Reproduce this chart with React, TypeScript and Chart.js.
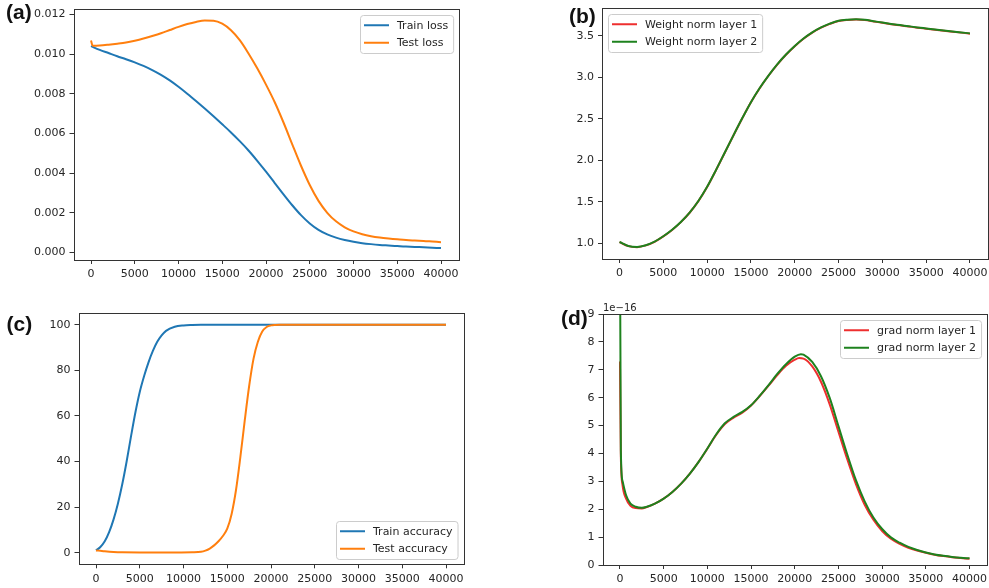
import React, { useEffect, useRef } from "react";
import { Chart, registerables } from "chart.js";

Chart.register(...registerables);

// ---------- data ----------
const xTickValues = [0, 5000, 10000, 15000, 20000, 25000, 30000, 35000, 40000];

// (a) loss
const lossSteps = [0, 200, 1000, 2000, 3000, 4000, 5000, 6000, 7000, 8000, 9000, 10000, 11000, 12000, 13000, 14000, 15000, 16000, 17000, 18000, 19000, 20000, 21000, 22000, 23000, 24000, 25000, 26000, 27000, 28000, 29000, 30000, 31000, 32000, 33000, 34000, 35000, 36000, 37000, 38000, 39000, 40000];
const trainLoss = [0.0104, 0.01036, 0.01021, 0.01005, 0.00989, 0.00974, 0.00958, 0.00940, 0.00919, 0.00895, 0.00867, 0.00835, 0.00800, 0.00763, 0.00725, 0.00686, 0.00646, 0.00605, 0.00561, 0.00514, 0.00462, 0.00407, 0.00350, 0.00293, 0.00238, 0.00188, 0.00146, 0.00114, 0.00091, 0.00075, 0.00063, 0.00054, 0.00047, 0.00042, 0.00038, 0.00035, 0.00032, 0.0003, 0.00028, 0.00026, 0.00024, 0.00022];
const testLoss = [0.01068, 0.01042, 0.01043, 0.01047, 0.01052, 0.01058, 0.01067, 0.01078, 0.01091, 0.01105, 0.01121, 0.01137, 0.01151, 0.01162, 0.01169, 0.01168, 0.01153, 0.01120, 0.01070, 0.01003, 0.00928, 0.00846, 0.00757, 0.00655, 0.00545, 0.00437, 0.00340, 0.00260, 0.00200, 0.00157, 0.00127, 0.00106, 0.00092, 0.00082, 0.00075, 0.0007, 0.00066, 0.00063, 0.0006, 0.00058, 0.00055, 0.00052];
const lossTicks = [0, 0.002, 0.004, 0.006, 0.008, 0.01, 0.012];

// (b) weight norms
const normSteps = [0, 1000, 2000, 3000, 4000, 5000, 6000, 7000, 8000, 9000, 10000, 11000, 12000, 13000, 14000, 15000, 16000, 17000, 18000, 19000, 20000, 21000, 22000, 23000, 24000, 25000, 26000, 27000, 28000, 29000, 30000, 31000, 32000, 33000, 34000, 35000, 36000, 37000, 38000, 39000, 40000];
const weightNorm1 = [1.014, 0.966, 0.954, 0.975, 1.018, 1.083, 1.161, 1.255, 1.368, 1.508, 1.678, 1.878, 2.088, 2.298, 2.503, 2.698, 2.868, 3.018, 3.153, 3.271, 3.374, 3.464, 3.538, 3.597, 3.642, 3.677, 3.690, 3.694, 3.688, 3.672, 3.655, 3.639, 3.625, 3.611, 3.597, 3.585, 3.573, 3.561, 3.549, 3.537, 3.524];
const weightNorm2 = [1.016, 0.968, 0.956, 0.977, 1.02, 1.085, 1.163, 1.257, 1.37, 1.51, 1.68, 1.88, 2.09, 2.3, 2.505, 2.7, 2.87, 3.02, 3.155, 3.273, 3.376, 3.466, 3.54, 3.6, 3.645, 3.68, 3.693, 3.697, 3.691, 3.675, 3.658, 3.642, 3.628, 3.614, 3.6, 3.588, 3.576, 3.564, 3.552, 3.54, 3.528];
const normTicks = [1.0, 1.5, 2.0, 2.5, 3.0, 3.5];

// (c) accuracy
const trainAccSteps = [0, 500, 1000, 1500, 2000, 2500, 3000, 3500, 4000, 4500, 5000, 5500, 6000, 6500, 7000, 7500, 8000, 9000, 10000, 11000, 12000, 15000, 20000, 25000, 30000, 35000, 40000];
const trainAcc = [1.0, 2.5, 5.0, 9.0, 14.5, 21.5, 30, 40, 51, 61.5, 70.5, 77.5, 83.5, 88.5, 92.5, 95.3, 97.3, 99.1, 99.7, 99.9, 100, 100, 100, 100, 100, 100, 100];
const testAccSteps = [0, 500, 1000, 2000, 3000, 5000, 8000, 11000, 12000, 12500, 13000, 13500, 14000, 14500, 15000, 15500, 16000, 16500, 17000, 17500, 18000, 18500, 19000, 19500, 20000, 20500, 21000, 25000, 30000, 35000, 40000];
const testAcc = [1.0, 0.8, 0.6, 0.3, 0.15, 0.1, 0.1, 0.2, 0.4, 0.9, 1.8, 3.2, 5.0, 7.3, 10.5, 17, 27.5, 42, 58, 73, 85, 92.5, 97, 99, 99.7, 99.9, 100, 100, 100, 100, 100];
const accTicks = [0, 20, 40, 60, 80, 100];

// (d) gradient norms (units of 1e-16)
const gradSteps1 = [0, 100, 300, 700, 1200, 1800, 2500, 3000, 4000, 5000, 6000, 7000, 8000, 9000, 10000, 11000, 12000, 13000, 14000, 15000, 16000, 17000, 18000, 19000, 20000, 20500, 21000, 22000, 23000, 24000, 25000, 26000, 27000, 28000, 29000, 30000, 31000, 32000, 33000, 34000, 35000, 36000, 37000, 38000, 39000, 40000];
const gradNorm1 = [7.3, 3.9, 2.85, 2.38, 2.12, 2.04, 2.03, 2.07, 2.2, 2.38, 2.62, 2.92, 3.28, 3.7, 4.17, 4.66, 5.05, 5.28, 5.46, 5.72, 6.06, 6.43, 6.81, 7.14, 7.36, 7.42, 7.4, 7.12, 6.57, 5.76, 4.78, 3.8, 2.9, 2.16, 1.62, 1.22, 0.94, 0.76, 0.62, 0.52, 0.44, 0.37, 0.32, 0.28, 0.25, 0.22];
const gradSteps2 = [0, 100, 300, 700, 1200, 1800, 2500, 3000, 4000, 5000, 6000, 7000, 8000, 9000, 10000, 11000, 12000, 13000, 14000, 15000, 16000, 17000, 18000, 19000, 20000, 20700, 21000, 22000, 23000, 24000, 25000, 26000, 27000, 28000, 29000, 30000, 31000, 32000, 33000, 34000, 35000, 36000, 37000, 38000, 39000, 40000];
const gradNorm2 = [12.0, 4.1, 3.0, 2.5, 2.2, 2.09, 2.05, 2.08, 2.2, 2.38, 2.62, 2.92, 3.28, 3.7, 4.18, 4.68, 5.08, 5.31, 5.49, 5.73, 6.07, 6.45, 6.85, 7.2, 7.47, 7.56, 7.54, 7.28, 6.77, 5.99, 4.98, 3.97, 3.04, 2.28, 1.7, 1.29, 0.99, 0.8, 0.65, 0.54, 0.45, 0.38, 0.33, 0.29, 0.26, 0.24];
const gradTicks = [0, 1, 2, 3, 4, 5, 6, 7, 8, 9];

// ---------- styling ----------
const BLUE = "#1f77b4";
const ORANGE = "#ff7f0e";
const RED = "#ee2f2f";
const GREEN = "#1e821e";
const TEXT = "#262626";
const AXIS = "#333333";
const FONT = "'DejaVu Sans', sans-serif";

const pts = (xs: number[], ys: number[]) => xs.map((x, i) => ({ x, y: ys[i] }));

const line = (label: string, xs: number[], ys: number[], color: string, order: number) => ({
  label,
  data: pts(xs, ys),
  borderColor: color,
  backgroundColor: color,
  borderWidth: 2,
  pointRadius: 0,
  fill: false,
  cubicInterpolationMode: "monotone" as const,
  order,
});

const framePlugin = {
  id: "frame",
  afterDraw(chart: any) {
    const { ctx, chartArea: a } = chart;
    ctx.save();
    ctx.strokeStyle = AXIS;
    ctx.lineWidth = 1;
    const l = Math.round(a.left) + 0.5;
    const t = Math.round(a.top) + 0.5;
    const r = Math.round(a.right) + 0.5;
    const b = Math.round(a.bottom) + 0.5;
    ctx.strokeRect(l, t, r - l, b - t);
    ctx.restore();
  },
};

const boxLegendPlugin = {
  id: "boxLegend",
  afterDraw(chart: any, _args: any, opts: any) {
    const { ctx, chartArea: a } = chart;
    const fs = 11;
    ctx.save();
    ctx.font = `${fs}px ${FONT}`;
    const items = chart.data.datasets.map((d: any) => ({ label: d.label, color: d.borderColor }));
    const handle = 25, gap = 8, padL = 4, padR = 5, rowH = 17.5, padV = 1.5, m = 5.5;
    const textW = Math.max(...items.map((i: any) => ctx.measureText(i.label).width));
    const w = padL + handle + gap + textW + padR;
    const h = items.length * rowH + 2 * padV;
    const pos: string = opts.pos || "upper right";
    const x = Math.round(pos.includes("right") ? a.right - m - w : a.left + m);
    const y = Math.round(pos.includes("upper") ? a.top + m : a.bottom - m - h);
    ctx.beginPath();
    if (ctx.roundRect) ctx.roundRect(x + 0.5, y + 0.5, w, h, 3);
    else ctx.rect(x + 0.5, y + 0.5, w, h);
    ctx.fillStyle = "rgba(255,255,255,0.8)";
    ctx.fill();
    ctx.strokeStyle = "#cccccc";
    ctx.lineWidth = 1;
    ctx.stroke();
    items.forEach((it: any, i: number) => {
      const cy = y + padV + rowH * (i + 0.5);
      ctx.beginPath();
      ctx.moveTo(x + padL, cy);
      ctx.lineTo(x + padL + handle, cy);
      ctx.strokeStyle = it.color;
      ctx.lineWidth = 2;
      ctx.stroke();
      ctx.fillStyle = TEXT;
      ctx.textBaseline = "middle";
      ctx.textAlign = "left";
      ctx.fillText(it.label, x + padL + handle + gap, cy + 0.5);
    });
    ctx.restore();
  },
};

type Rect = { left: number; top: number; width: number; height: number };
type Area = { l: number; t: number; r: number; b: number };

interface PanelProps {
  box: Rect;
  area: Area;
  datasets: any[];
  yMin: number;
  yMax: number;
  yTicks: number[];
  yFmt: (v: number) => string;
  legendPos: string;
}

function Panel(p: PanelProps) {
  const ref = useRef<HTMLCanvasElement>(null);
  useEffect(() => {
    if (!ref.current) return;
    const yW = 60;
    const xH = 22;
    const c = p.box;
    const font = { family: FONT, size: 11 };
    const chart = new Chart(ref.current, {
      type: "line",
      data: { datasets: p.datasets },
      options: {
        responsive: false,
        animation: false,
        events: [],
        layout: {
          padding: {
            left: p.area.l - c.left - yW,
            top: p.area.t - c.top,
            right: c.left + c.width - p.area.r,
            bottom: c.top + c.height - p.area.b - xH,
          },
        },
        scales: {
          x: {
            type: "linear",
            min: -2000,
            max: 42000,
            afterBuildTicks: (s: any) => {
              s.ticks = xTickValues.map((v) => ({ value: v }));
            },
            afterFit: (s: any) => {
              s.height = xH;
              s.paddingLeft = 0; s.paddingRight = 0; s.paddingTop = 0; s.paddingBottom = 0;
            },
            ticks: {
              callback: (v: any) => String(v),
              font,
              color: TEXT,
              padding: 4,
              maxRotation: 0,
              minRotation: 0,
              autoSkip: false,
            },
            grid: { drawOnChartArea: false, drawTicks: true, tickLength: 4, color: AXIS, tickColor: AXIS },
            border: { display: false },
          },
          y: {
            type: "linear",
            min: p.yMin,
            max: p.yMax,
            afterBuildTicks: (s: any) => {
              s.ticks = p.yTicks.map((v) => ({ value: v }));
            },
            afterFit: (s: any) => {
              s.width = yW;
              s.paddingLeft = 0; s.paddingRight = 0; s.paddingTop = 0; s.paddingBottom = 0;
            },
            ticks: {
              callback: (v: any) => p.yFmt(Number(v)),
              font,
              color: TEXT,
              padding: 4,
              autoSkip: false,
            },
            grid: { drawOnChartArea: false, drawTicks: true, tickLength: 4, color: AXIS, tickColor: AXIS },
            border: { display: false },
          },
        },
        plugins: {
          legend: { display: false },
          tooltip: { enabled: false },
          boxLegend: { pos: p.legendPos },
        } as any,
      },
      plugins: [framePlugin, boxLegendPlugin],
    } as any);
    return () => chart.destroy();
  }, []);
  return (
    <canvas
      ref={ref}
      width={p.box.width}
      height={p.box.height}
      style={{ position: "absolute", left: p.box.left, top: p.box.top, width: p.box.width, height: p.box.height }}
    />
  );
}

const panelLabel = (text: string, left: number, top: number) => (
  <div
    key={text}
    style={{
      position: "absolute",
      left,
      top,
      fontFamily: "'Liberation Sans', Arial, sans-serif",
      fontWeight: "bold",
      fontSize: 21,
      lineHeight: "21px",
      color: "#111",
      whiteSpace: "nowrap",
    }}
  >
    {text}
  </div>
);

export default function App() {
  return (
    <div style={{ position: "absolute", left: 0, top: 0, width: 989, height: 588, background: "#fff", overflow: "hidden" }}>
      <Panel
        box={{ left: 0, top: 0, width: 494, height: 294 }}
        area={{ l: 73.5, t: 9, r: 458.5, b: 260 }}
        datasets={[
          line("Train loss", lossSteps, trainLoss, BLUE, 2),
          line("Test loss", lossSteps, testLoss, ORANGE, 1),
        ]}
        yMin={-0.00038}
        yMax={0.01227}
        yTicks={lossTicks}
        yFmt={(v) => v.toFixed(3)}
        legendPos="upper right"
      />
      <Panel
        box={{ left: 494, top: 0, width: 495, height: 294 }}
        area={{ l: 602, t: 8.3, r: 987.5, b: 259 }}
        datasets={[
          line("Weight norm layer 1", normSteps, weightNorm1, RED, 2),
          line("Weight norm layer 2", normSteps, weightNorm2, GREEN, 1),
        ]}
        yMin={0.811}
        yMax={3.83}
        yTicks={normTicks}
        yFmt={(v) => v.toFixed(1)}
        legendPos="upper left"
      />
      <Panel
        box={{ left: 0, top: 294, width: 494, height: 294 }}
        area={{ l: 78.5, t: 313.3, r: 463.5, b: 564.3 }}
        datasets={[
          line("Train accuracy", trainAccSteps, trainAcc, BLUE, 2),
          line("Test accuracy", testAccSteps, testAcc, ORANGE, 1),
        ]}
        yMin={-5.1}
        yMax={105}
        yTicks={accTicks}
        yFmt={(v) => String(v)}
        legendPos="lower right"
      />
      <Panel
        box={{ left: 494, top: 294, width: 495, height: 294 }}
        area={{ l: 602.5, t: 314, r: 987, b: 565 }}
        datasets={[
          line("grad norm layer 1", gradSteps1, gradNorm1, RED, 2),
          line("grad norm layer 2", gradSteps2, gradNorm2, GREEN, 1),
        ]}
        yMin={0}
        yMax={9}
        yTicks={gradTicks}
        yFmt={(v) => String(v)}
        legendPos="upper right"
      />
      {panelLabel("(a)", 6, 1)}
      {panelLabel("(b)", 569, 5)}
      {panelLabel("(c)", 6.5, 312.5)}
      {panelLabel("(d)", 561, 306.5)}
      <div
        style={{
          position: "absolute",
          left: 603,
          top: 302,
          fontFamily: FONT,
          fontSize: 10,
          lineHeight: "11px",
          color: TEXT,
          whiteSpace: "nowrap",
        }}
      >
        1e−16
      </div>
    </div>
  );
}
